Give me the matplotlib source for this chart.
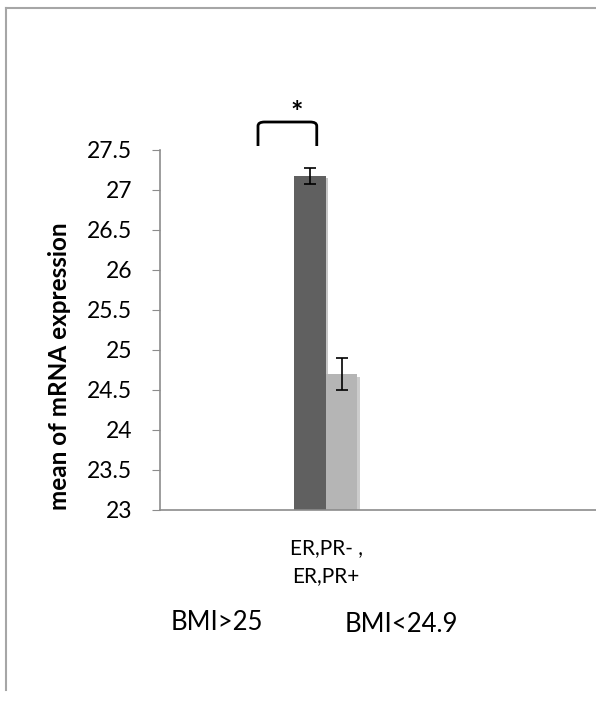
import numpy as np
import matplotlib.pyplot as plt
from matplotlib.lines import Line2D
from matplotlib.path import Path
from matplotlib.patches import PathPatch
import matplotlib.patheffects as pe

plt.rcParams["font.family"] = ["Lato", "DejaVu Sans"]

# data
group_label = "ER,PR- ,\nER,PR+"
series = ["BMI>25", "BMI<24.9"]
means = [27.18, 24.70]
errors = [0.10, 0.20]
colors = ["#606060", "#b5b5b5"]
yticks = [23, 23.5, 24, 24.5, 25, 25.5, 26, 26.5, 27, 27.5]

W, H = 596, 702
fig = plt.figure(figsize=(W / 100, H / 100), dpi=100)
ax = fig.add_axes([160 / W, 1 - 510 / H, 436 / W, 360 / H])

bar_w = 0.193
offsets = [-bar_w / 2, bar_w / 2]
for i in range(2):
    ax.bar(offsets[i], means[i] - 23, bottom=23, width=bar_w, color=colors[i],
           zorder=2,
           path_effects=[pe.SimplePatchShadow(offset=(2, -2), alpha=0.25), pe.Normal()])
    ax.errorbar(offsets[i], means[i], yerr=errors[i], color="black", lw=1.2,
                capsize=4.5, capthick=1.2, zorder=3)

ax.set_xlim(-1, 1.634)
ax.set_ylim(23, 27.5)
ax.set_yticks(yticks)
ax.set_yticklabels(["%g" % t for t in yticks], fontsize=16.5)
ax.set_xticks([])
for s in ["top", "right"]:
    ax.spines[s].set_visible(False)
for s in ["left", "bottom"]:
    ax.spines[s].set_color("#8c8c8c")
    ax.spines[s].set_linewidth(1.2)
ax.tick_params(axis="y", length=6, color="#8c8c8c", pad=14)
ax.set_ylabel("mean of mRNA expression", fontsize=17.5, fontweight="bold")
ax.yaxis.set_label_coords((71 - 160) / 436, (510 - 366) / 360)

# significance bracket
x0, x1 = -0.408, -0.053
yb, yt = 27.55, 27.85
r = 0.04
verts = [(x0, yb), (x0, yt - 0.05), (x0, yt), (x0 + r, yt), (x1 - r, yt), (x1, yt),
         (x1, yt - 0.05), (x1, yb)]
codes = [Path.MOVETO, Path.LINETO, Path.CURVE3, Path.CURVE3, Path.LINETO,
         Path.CURVE3, Path.CURVE3, Path.LINETO]
ax.add_patch(PathPatch(Path(verts, codes), fill=False, lw=2, color="black",
                       clip_on=False))
ax.text(-0.172, 27.96, "*", ha="center", va="center", fontsize=21,
        fontweight="bold", clip_on=False)

# category and series labels
fig.text(326 / W, 1 - 562 / H, group_label, ha="center", va="center",
         fontsize=15, linespacing=1.45)
fig.text(217 / W, 1 - 622 / H, series[0], ha="center", va="center", fontsize=18.5)
fig.text(401 / W, 1 - 625 / H, series[1], ha="center", va="center", fontsize=18.5)

# chart frame
fig.add_artist(Line2D([6 / W, 6 / W], [1 - 8 / H, 1 - 690 / H], color="#a6a6a6",
                      lw=1.5, transform=fig.transFigure))
fig.add_artist(Line2D([6 / W, 1], [1 - 8 / H, 1 - 8 / H], color="#a6a6a6",
                      lw=1.5, transform=fig.transFigure))

fig.savefig("out.png", dpi=100, facecolor="white")
